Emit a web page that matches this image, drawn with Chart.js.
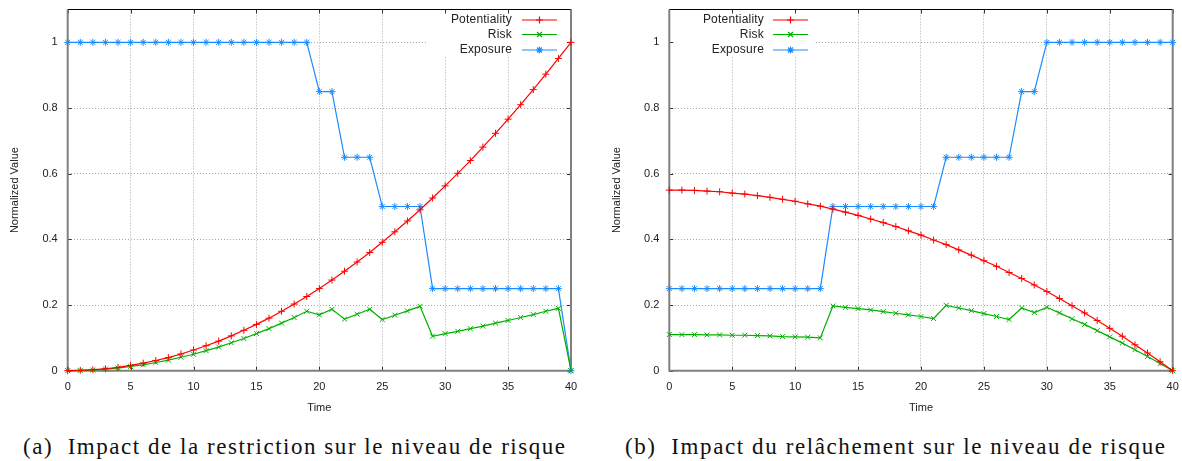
<!DOCTYPE html>
<html>
<head>
<meta charset="utf-8">
<script src="https://cdn.jsdelivr.net/npm/chart.js@4.4.1/dist/chart.umd.min.js"></script>
<style>
  html, body { margin: 0; padding: 0; background: #fff; }
  body { width: 1182px; height: 461px; position: relative; overflow: hidden; }
  .panel { position: absolute; top: 0; width: 591px; height: 420px; }
  .caption {
    position: absolute; top: 434px; line-height: 26px;
    font-family: "Liberation Serif", "Times New Roman", serif; font-size: 23px;
    color: #111; white-space: nowrap;
  }
</style>
</head>
<body>
<div class="panel" style="left:0"><canvas id="chartA" width="591" height="420"></canvas></div>
<div class="panel" style="left:591px"><canvas id="chartB" width="591" height="420"></canvas></div>
<div class="caption" id="capA" style="left:23px">(a)&nbsp; Impact de la restriction sur le niveau de risque</div>
<div class="caption" id="capB" style="left:625px">(b)&nbsp; Impact du relâchement sur le niveau de risque</div>

<script>
// datos
const times = [0,1,2,3,4,5,6,7,8,9,10,11,12,13,14,15,16,17,18,19,20,
  21,22,23,24,25,26,27,28,29,30,31,32,33,34,35,36,37,38,39,40];

const seriesNames = ['Potentiality', 'Risk', 'Exposure'];
const xTicks = [0, 5, 10, 15, 20, 25, 30, 35, 40];
const yTicks = [0, 0.2, 0.4, 0.6, 0.8, 1];

// (a) restriction
const restrictPotentiality = [0,0.001,0.003,0.006,0.010,0.016,0.023,0.031,0.040,0.051,0.063,
  0.076,0.090,0.106,0.123,0.141,0.160,0.181,0.203,0.226,0.250,0.276,0.303,0.331,0.360,0.391,
  0.423,0.456,0.490,0.526,0.563,0.601,0.640,0.681,0.723,0.766,0.810,0.856,0.903,0.951,1.000];
const restrictRisk = [0,0.001,0.002,0.005,0.008,0.013,0.018,0.025,0.032,0.041,0.050,
  0.061,0.072,0.085,0.098,0.113,0.128,0.145,0.162,0.181,0.170,0.187,0.157,0.172,0.187,0.156,
  0.169,0.182,0.196,0.105,0.113,0.120,0.128,0.136,0.145,0.153,0.162,0.171,0.181,0.190,0];
const restrictExposure = [1,1,1,1,1,1,1,1,1,1,1,1,1,1,1,1,1,1,1,1,
  0.85,0.85,0.65,0.65,0.65,0.5,0.5,0.5,0.5,
  0.25,0.25,0.25,0.25,0.25,0.25,0.25,0.25,0.25,0.25,0.25,0];

// (b) relâchement
const relaxPotentiality = [0.550,0.550,0.549,0.547,0.545,0.541,0.538,0.533,0.528,0.522,0.516,
  0.508,0.501,0.492,0.483,0.473,0.462,0.451,0.439,0.426,0.413,0.398,0.384,0.368,0.352,0.335,
  0.318,0.299,0.281,0.261,0.241,0.220,0.198,0.176,0.153,0.129,0.105,0.079,0.054,0.027,0];
const relaxRisk = [0.110,0.110,0.110,0.109,0.109,0.108,0.108,0.107,0.106,0.104,0.103,
  0.102,0.100,0.197,0.193,0.189,0.185,0.180,0.175,0.170,0.165,0.159,0.199,0.191,0.183,0.174,
  0.165,0.156,0.191,0.177,0.193,0.176,0.158,0.141,0.122,0.103,0.084,0.064,0.043,0.022,0];
const relaxExposure = [0.25,0.25,0.25,0.25,0.25,0.25,0.25,0.25,0.25,0.25,0.25,0.25,0.25,
  0.5,0.5,0.5,0.5,0.5,0.5,0.5,0.5,0.5,
  0.65,0.65,0.65,0.65,0.65,0.65,0.85,0.85,
  1,1,1,1,1,1,1,1,1,1,1];

const colors = ['#ff0000', '#00b000', '#1a8cff'];
const markers = ['cross', 'crossRot', 'star'];

Chart.defaults.font.family = '"Liberation Sans", Arial, sans-serif';
Chart.defaults.font.size = 11;
Chart.defaults.color = '#222';

// cadre gnuplot + petites graduations
const frame = {
  id: 'frame',
  beforeDatasetsDraw(chart, args, opts) {
    const { ctx, chartArea: a, scales } = chart;
    ctx.save();
    // fond blanc de la légende
    const k = opts.key;
    ctx.fillStyle = '#fff';
    ctx.fillRect(k.x0, a.top, k.x1 - k.x0, k.y1 - a.top);
    // graduations
    ctx.strokeStyle = '#333';
    ctx.lineWidth = 1;
    ctx.beginPath();
    xTicks.forEach(v => {
      const x = Math.round(scales.x.getPixelForValue(v)) + 0.5;
      ctx.moveTo(x, a.bottom); ctx.lineTo(x, a.bottom - 4);
      ctx.moveTo(x, a.top); ctx.lineTo(x, a.top + 4);
    });
    yTicks.forEach(v => {
      const y = Math.round(scales.y.getPixelForValue(v)) + 0.5;
      ctx.moveTo(a.left, y); ctx.lineTo(a.left + 4, y);
      ctx.moveTo(a.right, y); ctx.lineTo(a.right - 4, y);
    });
    ctx.stroke();
    // bordures
    ctx.strokeStyle = '#000';
    ctx.beginPath();
    ctx.moveTo(a.left, a.top); ctx.lineTo(a.right, a.top);
    ctx.stroke();
    ctx.strokeStyle = '#808080';
    ctx.lineWidth = 2;
    ctx.beginPath();
    ctx.moveTo(a.left, a.top); ctx.lineTo(a.left, a.bottom); ctx.lineTo(a.right, a.bottom); ctx.lineTo(a.right, a.top);
    ctx.stroke();
    ctx.restore();
  },
  afterDatasetsDraw(chart, args, opts) {
    const { ctx } = chart;
    const k = opts.key;
    ctx.save();
    ctx.font = '12px "Liberation Sans", Arial, sans-serif';
    ctx.letterSpacing = '0.2px';
    ctx.textAlign = 'right';
    ctx.textBaseline = 'middle';
    chart.data.datasets.forEach((ds, i) => {
      const y = k.rows[i];
      ctx.fillStyle = '#222';
      ctx.fillText(ds.label, k.textRight, y);
      ctx.strokeStyle = ds.borderColor;
      ctx.fillStyle = ds.borderColor;
      ctx.lineWidth = 1.2;
      ctx.beginPath();
      ctx.moveTo(k.s0, y); ctx.lineTo(k.s1, y);
      ctx.stroke();
      Chart.helpers.drawPoint(ctx, { pointStyle: ds.pointStyle, radius: 3.5, borderWidth: 1, rotation: 0 }, (k.s0 + k.s1) / 2, y);
    });
    ctx.restore();
  }
};

function makeChart(id, series, layout) {
  const datasets = series.map((vals, i) => ({
    label: seriesNames[i],
    data: times.map((t, j) => ({ x: t, y: vals[j] })),
    borderColor: colors[i],
    backgroundColor: colors[i],
    borderWidth: 1.2,
    pointStyle: markers[i],
    pointRadius: 3.5,
    pointBorderWidth: 1,
    pointHoverRadius: 3.5,
    tension: 0,
    clip: false
  }));
  return new Chart(document.getElementById(id), {
    type: 'line',
    data: { datasets },
    plugins: [frame],
    options: {
      responsive: false,
      animation: false,
      layout: { padding: { left: 0, right: layout.padRight, top: 9.5, bottom: 0 } },
      plugins: {
        legend: { display: false },
        tooltip: { enabled: false },
        frame: { key: layout.key }
      },
      scales: {
        x: {
          type: 'linear', min: 0, max: 40,
          afterBuildTicks: s => { s.ticks = xTicks.map(v => ({ value: v })); },
          afterFit: s => { s.height = 420 - 370.7; s.paddingLeft = 0; s.paddingRight = 0; },
          ticks: { padding: 10, maxRotation: 0, autoSkip: false },
          grid: { color: '#a8a8a8', lineWidth: 1, drawTicks: false },
          border: { display: false, dash: [1, 2] },
          title: { display: true, text: 'Time', font: { size: 11 }, padding: { top: 0, bottom: 5.4 } }
        },
        y: {
          type: 'linear', min: 0, max: 1.1,
          afterBuildTicks: s => { s.ticks = yTicks.map(v => ({ value: v })); },
          afterFit: s => { s.width = layout.yWidth; s.paddingTop = 0; s.paddingBottom = 0; },
          ticks: { padding: 10, callback: v => String(+v.toFixed(1)) },
          grid: { color: '#a8a8a8', lineWidth: 1, drawTicks: false },
          border: { display: false, dash: [1, 2] },
          title: { display: true, text: 'Normalized Value', font: { size: 11 }, padding: { top: layout.titlePad, bottom: 0 } }
        }
      }
    }
  });
}

makeChart('chartA', [restrictPotentiality, restrictRisk, restrictExposure], {
  padRight: 20, yWidth: 67.7, titlePad: 8.4,
  key: { x0: 427, x1: 571, y1: 57, textRight: 512, s0: 522, s1: 557, rows: [20, 34.5, 50] }
});
makeChart('chartB', [relaxPotentiality, relaxRisk, relaxExposure], {
  padRight: 9.3, yWidth: 78.3, titlePad: 19.4,
  key: { x0: 78.3, x1: 223, y1: 57, textRight: 173, s0: 182, s1: 217, rows: [20, 34.5, 50] }
});

// ajuste de l'interlettrage des légendes (largeur de la figure)
[['capA', 542], ['capB', 540]].forEach(([id, target]) => {
  const el = document.getElementById(id);
  const w = el.getBoundingClientRect().width;
  const n = el.textContent.length - 1;
  el.style.letterSpacing = ((target - w) / n) + 'px';
});
</script>
</body>
</html>
